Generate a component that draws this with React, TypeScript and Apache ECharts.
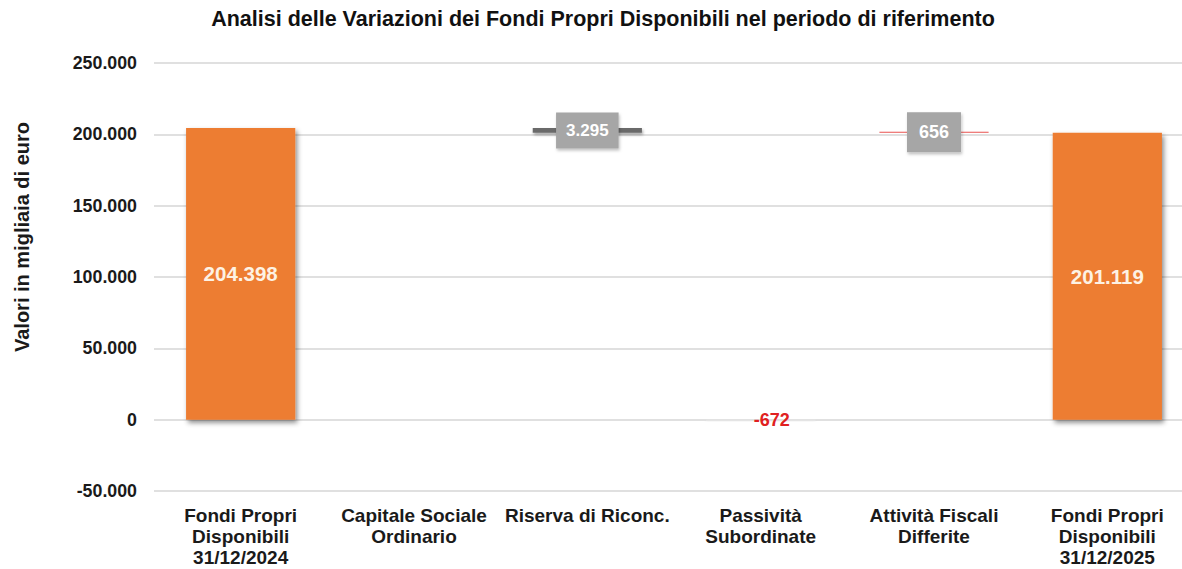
import React, { useEffect, useRef } from "react";
import * as echarts from "echarts";

const titleText = "Analisi delle Variazioni dei Fondi Propri Disponibili nel periodo di riferimento";
const yAxisTitle = "Valori in migliaia di euro";
const categories = [
  "Fondi Propri\nDisponibili\n31/12/2024",
  "Capitale Sociale\nOrdinario",
  "Riserva di Riconc.",
  "Passività\nSubordinate",
  "Attività Fiscali\nDifferite",
  "Fondi Propri\nDisponibili\n31/12/2025",
];
const totals = [204398, null, null, null, null, 201119];
const variationBases = [null, 0, 201103, 0, 201119, null];
const variations = [null, 0, 3295, -672, 656, null];
const yMin = -50000;
const yMax = 250000;
const yStep = 50000;

const FONT = "'Liberation Sans', Arial, Helvetica, sans-serif";
const fmt = (v: number) => {
  const s = String(Math.abs(Math.round(v))).replace(/\B(?=(\d{3})+(?!\d))/g, ".");
  return (v < 0 ? "-" : "") + s;
};

export default function App() {
  const ref = useRef<HTMLDivElement>(null);
  useEffect(() => {
    if (!ref.current) return;
    const chart = echarts.init(ref.current, undefined, { renderer: "svg" });

    const varStyles: any[] = [
      null,
      { color: "#7f7f7f" },
      { color: "#6b6b6b", shadowColor: "rgba(0,0,0,0.35)", shadowBlur: 3, shadowOffsetX: 1, shadowOffsetY: 2 },
      { color: "#e6e6e6", shadowColor: "rgba(0,0,0,0.2)", shadowBlur: 3, shadowOffsetX: 0, shadowOffsetY: 3 },
      { color: "#e8524f" },
      null,
    ];
    const boxLabel = {
      show: true,
      position: "inside",
      color: "#ffffff",
      fontWeight: "bold",
      fontFamily: FONT,
      backgroundColor: "#a6a6a6",
      shadowColor: "rgba(0,0,0,0.25)",
      shadowBlur: 3,
      shadowOffsetX: 1,
      shadowOffsetY: 2,
    };
    const varLabels: any[] = [
      { show: false },
      { show: false },
      { ...boxLabel, fontSize: 17, padding: [10, 10, 9, 10] },
      { show: true, position: "inside", color: "#e02020", fontWeight: "bold", fontSize: 18, fontFamily: FONT, offset: [11, 0] },
      { ...boxLabel, fontSize: 18, padding: [11, 12, 11, 12] },
      { show: false },
    ];

    chart.setOption({
      animation: false,
      backgroundColor: "#ffffff",
      grid: { left: 154, top: 63, width: 1040, height: 428, outerBoundsMode: "none", containLabel: false },
      xAxis: {
        type: "category",
        data: categories,
        axisLine: { show: false },
        axisTick: { show: false },
        axisLabel: {
          interval: 0,
          margin: 14,
          color: "#1a1a1a",
          fontWeight: "bold",
          fontSize: 19,
          lineHeight: 21,
          fontFamily: FONT,
          align: "center",
        },
      },
      yAxis: {
        type: "value",
        min: yMin,
        max: yMax,
        interval: yStep,
        axisLine: { show: false },
        axisTick: { show: false },
        splitLine: { lineStyle: { color: "#d6d6d6", width: 1.5 } },
        axisLabel: {
          margin: 17,
          color: "#1a1a1a",
          fontWeight: "bold",
          fontSize: 17.8,
          fontFamily: FONT,
          formatter: (v: number) => fmt(v),
        },
      },
      graphic: [
        {
          type: "text",
          x: 603,
          y: 19,
          style: {
            text: titleText,
            fontSize: 21.5,
            fontWeight: "bold",
            fontFamily: FONT,
            fill: "#111111",
            textAlign: "center",
            textVerticalAlign: "middle",
          },
        },
        {
          type: "text",
          x: 22,
          y: 237,
          rotation: Math.PI / 2,
          style: {
            text: yAxisTitle,
            fontSize: 20,
            fontWeight: "bold",
            fontFamily: FONT,
            fill: "#1a1a1a",
            textAlign: "center",
            textVerticalAlign: "middle",
          },
        },
      ],
      series: [
        {
          name: "base",
          type: "bar",
          stack: "w",
          barWidth: "63%",
          silent: true,
          itemStyle: { color: "transparent" },
          data: variationBases,
        },
        {
          name: "totals",
          type: "bar",
          stack: "w",
          barWidth: "63%",
          itemStyle: {
            color: "#ed7d31",
            shadowColor: "rgba(0,0,0,0.45)",
            shadowBlur: 5,
            shadowOffsetX: 2,
            shadowOffsetY: 3,
          },
          label: {
            show: true,
            position: "inside",
            color: "#fdf2e4",
            fontWeight: "bold",
            fontSize: 20.5,
            fontFamily: FONT,
            formatter: (p: any) => fmt(p.value),
          },
          data: totals,
        },
        {
          name: "variations",
          type: "bar",
          stack: "w",
          barWidth: "63%",
          data: variations.map((v, i) =>
            v === null
              ? null
              : {
                  value: v,
                  itemStyle: varStyles[i],
                  label: { ...varLabels[i], formatter: (p: any) => fmt(p.value) },
                }
          ),
        },
      ],
    });
    return () => chart.dispose();
  }, []);
  return <div ref={ref} style={{ position: "fixed", left: 0, top: 0, width: 1182, height: 569 }} />;
}
